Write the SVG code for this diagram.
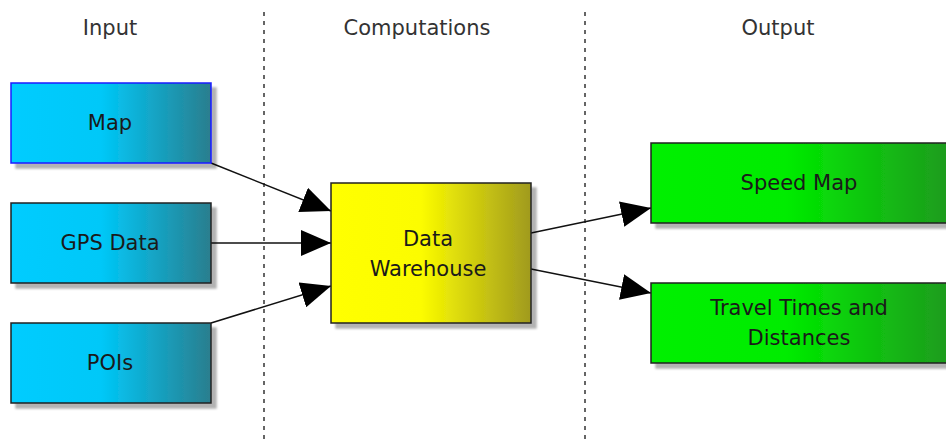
<svg xmlns="http://www.w3.org/2000/svg" width="946" height="439" viewBox="0 0 946 439">
  <defs>
    <linearGradient id="gBlue" x1="0" y1="0" x2="1" y2="0">
      <stop offset="0" stop-color="#00CCFF"/>
      <stop offset="0.45" stop-color="#00C8F8"/>
      <stop offset="1" stop-color="#2A7E8E"/>
    </linearGradient>
    <linearGradient id="gYellow" x1="0" y1="0" x2="1" y2="0">
      <stop offset="0" stop-color="#FFFF00"/>
      <stop offset="0.45" stop-color="#FCFC00"/>
      <stop offset="1" stop-color="#A09A1E"/>
    </linearGradient>
    <linearGradient id="gGreen" x1="0" y1="0" x2="1" y2="0">
      <stop offset="0" stop-color="#00F000"/>
      <stop offset="0.45" stop-color="#00EC00"/>
      <stop offset="1" stop-color="#1E9A1E"/>
    </linearGradient>
    <filter id="shadow" x="-10%" y="-10%" width="130%" height="130%">
      <feGaussianBlur in="SourceAlpha" stdDeviation="1.2"/>
      <feOffset dx="5" dy="5" result="b"/>
      <feFlood flood-color="#000" flood-opacity="0.3"/>
      <feComposite in2="b" operator="in"/>
      <feMerge><feMergeNode/><feMergeNode in="SourceGraphic"/></feMerge>
    </filter>
    <marker id="arrow" viewBox="0 0 30 26" refX="30" refY="13" markerWidth="30" markerHeight="26" markerUnits="userSpaceOnUse" orient="auto">
      <path d="M0,0 L30,13 L0,26 Z" fill="#000"/>
    </marker>
  </defs>
  <style>
    text { font-family: "DejaVu Sans", Verdana, sans-serif; font-size: 21px; text-anchor: middle; }
    .hdr { fill: #333; }
    .lbl { fill: #1a1a1a; }
    .box { stroke: #222; stroke-width: 1.5; filter: url(#shadow); }
    .sep { stroke: #333; stroke-width: 1.5; stroke-dasharray: 4 5; fill: none; }
    .conn { stroke: #111; stroke-width: 1.5; fill: none; marker-end: url(#arrow); }
  </style>

  <rect width="946" height="439" fill="#fff"/>

  <!-- lane separators and headers -->
  <g id="lanes">
    <line class="sep" x1="264" y1="12" x2="264" y2="439"/>
    <line class="sep" x1="585" y1="12" x2="585" y2="439"/>
    <text class="hdr" x="110" y="35">Input</text>
    <text class="hdr" x="417" y="35">Computations</text>
    <text class="hdr" x="778" y="35">Output</text>
  </g>

  <!-- connectors -->
  <g id="connectors">
    <line class="conn" x1="211" y1="163" x2="331" y2="211"/>
    <line class="conn" x1="211" y1="243" x2="331" y2="243"/>
    <line class="conn" x1="211" y1="323" x2="331" y2="286"/>
    <line class="conn" x1="531" y1="233" x2="651" y2="208"/>
    <line class="conn" x1="531" y1="269" x2="651" y2="293"/>
  </g>

  <g id="map">
    <rect class="box" x="11" y="83" width="200" height="80" fill="url(#gBlue)" style="stroke:#1a1aff"/>
    <text class="lbl" x="110" y="130">Map</text>
  </g>
  <g id="gps">
    <rect class="box" x="11" y="203" width="200" height="80" fill="url(#gBlue)"/>
    <text class="lbl" x="110" y="250">GPS Data</text>
  </g>
  <g id="pois">
    <rect class="box" x="11" y="323" width="200" height="80" fill="url(#gBlue)"/>
    <text class="lbl" x="110" y="370">POIs</text>
  </g>
  <g id="warehouse">
    <rect class="box" x="331" y="183" width="200" height="140" fill="url(#gYellow)"/>
    <text class="lbl" x="428" y="246">Data</text>
    <text class="lbl" x="428" y="276">Warehouse</text>
  </g>
  <g id="speedmap">
    <rect class="box" x="651" y="143" width="300" height="80" fill="url(#gGreen)"/>
    <text class="lbl" x="799" y="190">Speed Map</text>
  </g>
  <g id="travel">
    <rect class="box" x="651" y="283" width="300" height="80" fill="url(#gGreen)"/>
    <text class="lbl" x="799" y="315">Travel Times and</text>
    <text class="lbl" x="799" y="345">Distances</text>
  </g>
</svg>
